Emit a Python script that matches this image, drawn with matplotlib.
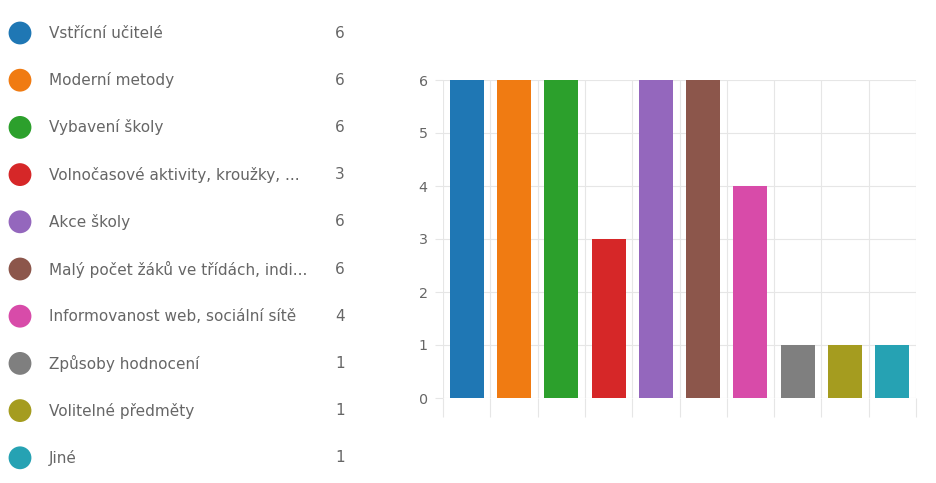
import numpy as np
import matplotlib.pyplot as plt

plt.rcParams['font.family'] = ['DejaVu Sans']

# data
labels = ['Vstřícní učitelé', 'Moderní metody', 'Vybavení školy',
          'Volnočasové aktivity, kroužky, ...', 'Akce školy',
          'Malý počet žáků ve třídách, indi...', 'Informovanost web, sociální sítě',
          'Způsoby hodnocení', 'Volitelné předměty', 'Jiné']
counts = [6, 6, 6, 3, 6, 6, 4, 1, 1, 1]
colors = ['#1f77b4', '#f07b12', '#2ca02c', '#d62728', '#9467bd',
          '#8c564b', '#d84ba9', '#7f7f7f', '#a59c1f', '#26a2b3']

fig = plt.figure(figsize=(9.37, 4.83), dpi=100)

# legend list on the left
lax = fig.add_axes([0, 0, 360 / 937, 1])
lax.set_xlim(0, 360)
lax.set_ylim(483, 0)
lax.axis('off')
rows = 33 + 47.2 * np.arange(len(labels))
lax.scatter(np.full(len(labels), 20), rows, s=270, c=colors, edgecolors='none')
for y, lab, n in zip(rows, labels, counts):
    lax.text(49, y, lab, fontsize=11, color='#666666', va='center', ha='left')
    lax.text(340, y, str(n), fontsize=11, color='#666666', va='center', ha='center')

# bar chart
ax = fig.add_axes([443 / 937, 1 - 398 / 483, 473 / 937, 318 / 483])
x = np.arange(len(counts))
ax.bar(x, counts, width=0.72, color=colors, zorder=3)
ax.set_xlim(-0.5, len(counts) - 0.5)
ax.set_ylim(0, 6)
ax.set_yticks(range(0, 7))
ax.set_xticks(np.arange(-0.5, len(counts), 1.0))
ax.set_xticklabels([])
ax.grid(True, color='#e6e6e6', linewidth=0.8, zorder=0)
for s in ax.spines.values():
    s.set_visible(False)
ax.tick_params(axis='y', length=6, color='#e6e6e6', labelcolor='#666666', labelsize=10.3, pad=5)
ax.tick_params(axis='x', length=14, color='#e6e6e6')

fig.savefig('out.png', dpi=100, facecolor='white')
